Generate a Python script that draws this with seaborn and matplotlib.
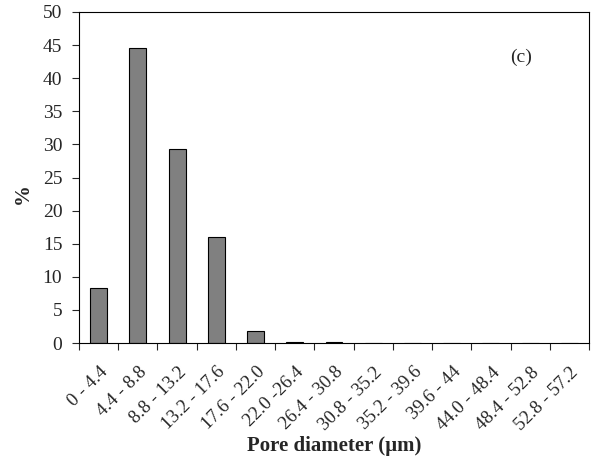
import numpy as np
import pandas as pd
import matplotlib
matplotlib.use("Agg")
import matplotlib.pyplot as plt
import matplotlib.transforms as mtransforms
import seaborn as sns

# pore size classes (um) and share of pores (%)
classes = ["0 - 4.4", "4.4 - 8.8", "8.8 - 13.2", "13.2 - 17.6", "17.6 - 22.0",
           "22.0 -26.4", "26.4 - 30.8", "30.8 - 35.2", "35.2 - 39.6", "39.6 - 44",
           "44.0 - 48.4", "48.4 - 52.8", "52.8 - 57.2"]
percent = [8.25, 44.6, 29.25, 16.0, 1.75, 0.12, 0.12, 0, 0, 0, 0, 0, 0]

df = pd.DataFrame({"cls": classes, "pct": percent})

sns.set_style("white")
plt.rcParams["font.family"] = ["Liberation Serif", "DejaVu Serif"]

fig = plt.figure(figsize=(5.91, 4.59), dpi=100)
ax = fig.add_axes([79 / 591, 1 - 343 / 459, 510 / 591, 331 / 459])

sns.barplot(data=df, x="cls", y="pct", color="#808080", edgecolor="black",
            linewidth=0.8, width=0.43, saturation=1, ax=ax)
for p in ax.patches:
    p.set_facecolor("#808080")

ax.set_xlim(-0.5, len(classes) - 0.5)
ax.set_ylim(0, 50)
ax.set_yticks(np.arange(0, 51, 5))
ax.tick_params(axis="y", labelsize=14, direction="out", length=5, width=0.8, left=True, pad=7)

# labels at category centres, tick marks at category boundaries (Excel style)
ax.set_xticks(range(len(classes)))
ax.set_xticklabels(classes, rotation=45, ha="right", va="center", rotation_mode="anchor", fontsize=13.5)
ax.tick_params(axis="x", which="major", length=0, pad=16)
ax.set_xticks(np.arange(-0.5, len(classes), 1.0), minor=True)
ax.tick_params(axis="x", which="minor", direction="out", length=5, width=0.8, bottom=True)
shift = mtransforms.ScaledTranslation(0.065, -0.045, fig.dpi_scale_trans)
for lab in ax.get_xticklabels():
    lab.set_transform(lab.get_transform() + shift)

for s in ax.spines.values():
    s.set_visible(True)
    s.set_color("black")
    s.set_linewidth(0.8)

ax.set_xlabel("Pore diameter (\u00b5m)", fontsize=15, fontweight="bold")
ax.xaxis.set_label_coords(0.5, -0.28)
ax.set_ylabel("%", fontsize=15, fontweight="bold")
ax.yaxis.set_label_coords(-0.091, 0.45)
ax.text(0.867, 0.864, "(c)", transform=ax.transAxes, fontsize=14, ha="center", va="center")

fig.savefig("out.png", dpi=100)
